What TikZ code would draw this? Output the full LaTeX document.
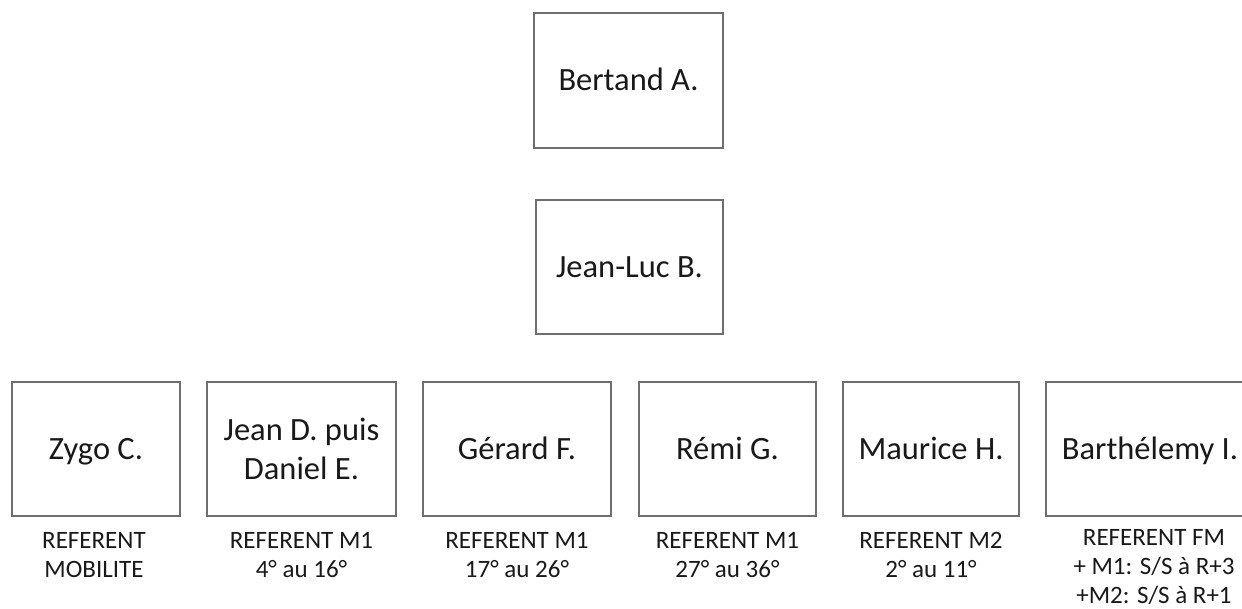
\documentclass[tikz,border=0pt]{standalone}
\usepackage{fontspec}
\setmainfont{Carlito}
\definecolor{boxline}{RGB}{110,110,110}
\definecolor{txt}{RGB}{25,25,25}
\begin{document}
\begin{tikzpicture}[x=1pt,y=-1pt,
  personbox/.style={draw=boxline, line width=1.6pt, fill=white, rectangle, inner sep=0pt,
     text=txt, font=\fontsize{32.5}{39}\selectfont, align=center},
  onel/.style={text height=21pt, text depth=0pt},
  rolelabel/.style={anchor=north, inner sep=0pt, text=txt, align=center,
     font=\fontsize{25}{29}\selectfont}
]
\useasboundingbox[fill=white] (0,0) rectangle (1242,609);
% top boxes
\node[personbox, onel, minimum width=189pt, minimum height=135pt] (bertand) at (628.5,80.5) {Bertand A.};
\node[personbox, onel, minimum width=187pt, minimum height=134pt] (jeanluc) at (629.5,267) {Jean-Luc B.};
% bottom row
\node[personbox, onel, minimum width=168pt, minimum height=134pt] (zygo) at (96,449) {Zygo C.};
\node[personbox, minimum width=189pt, minimum height=134pt] (jeand) at (301.5,449) {Jean D. puis\\Daniel E.};
\node[personbox, onel, minimum width=188pt, minimum height=134pt] (gerard) at (517,449) {Gérard F.};
\node[personbox, onel, minimum width=177pt, minimum height=134pt] (remi) at (727.5,449) {Rémi G.};
\node[personbox, onel, minimum width=176pt, minimum height=134pt] (maurice) at (931,449) {Maurice H.};
\node[personbox, onel, minimum width=208pt, minimum height=134pt] (barth) at (1150,449) {Barthélemy I.};
% labels
\node[rolelabel] (lzygo) at (94,532) {REFERENT\\MOBILITE};
\node[rolelabel] (ljeand) at (301.5,532) {REFERENT M1\\4° au 16°};
\node[rolelabel] (lgerard) at (517,532) {REFERENT M1\\17° au 26°};
\node[rolelabel] (lremi) at (727.5,532) {REFERENT M1\\27° au 36°};
\node[rolelabel] (lmaurice) at (931,532) {REFERENT M2\\2° au 11°};
\node[rolelabel] (lbarth) at (1154,529) {REFERENT FM\\+ M1: S/S à R+3\\+M2: S/S à R+1};
\end{tikzpicture}
\end{document}
